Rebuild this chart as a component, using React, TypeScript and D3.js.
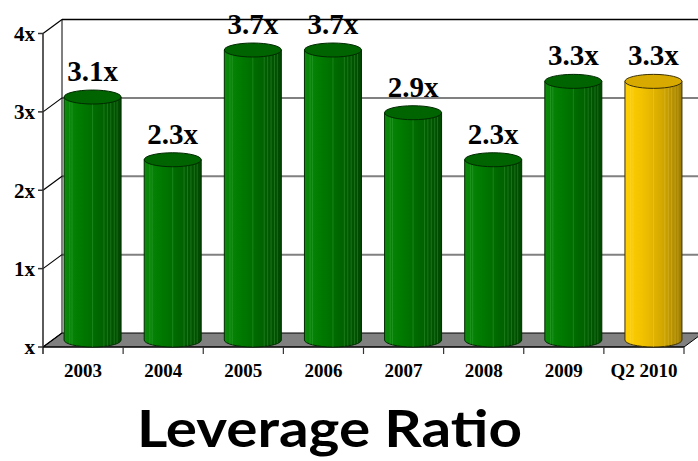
import React from "react";
import * as d3 from "d3";

const categories = ["2003", "2004", "2005", "2006", "2007", "2008", "2009", "Q2 2010"];
const values = [3.1, 2.3, 3.7, 3.7, 2.9, 2.3, 3.3, 3.3];
const valueLabels = ["3.1x", "2.3x", "3.7x", "3.7x", "2.9x", "2.3x", "3.3x", "3.3x"];
const highlighted = [false, false, false, false, false, false, false, true];
const yTicks = [0, 1, 2, 3, 4];
const yTickLabels = ["x", "1x", "2x", "3x", "4x"];
const title = "Leverage Ratio";

const W = 698;
const H = 461;
const DX = 19;
const DY = -14;
const RX = 28.5;
const RY = 7;
const serif = "'Liberation Serif', 'Times New Roman', serif";

export default function App() {
  const x = d3.scaleBand<string>().domain(categories).range([43, 684]).padding(0);
  const y = d3.scaleLinear().domain([0, 4]).range([347, 33.5]);
  const x0 = 43;
  const x1 = 684;
  const y0 = y(0);

  const stripes = [0.1, 0.14, 0.5, 0.7, 0.76, 0.82, 0.88, 0.93];

  return (
    <svg
      width={W}
      height={H}
      viewBox={`0 0 ${W} ${H}`}
      style={{ position: "absolute", left: 0, top: 0, background: "#fff" }}
    >
      <defs>
        <linearGradient id="gGreen" x1="0" x2="1" y1="0" y2="0">
          <stop offset="0" stopColor="#0b8a0b" />
          <stop offset="0.3" stopColor="#007a00" />
          <stop offset="0.65" stopColor="#006400" />
          <stop offset="1" stopColor="#004800" />
        </linearGradient>
        <linearGradient id="gGold" x1="0" x2="1" y1="0" y2="0">
          <stop offset="0" stopColor="#ffd000" />
          <stop offset="0.3" stopColor="#f2c200" />
          <stop offset="0.65" stopColor="#d4a800" />
          <stop offset="1" stopColor="#9c7c00" />
        </linearGradient>
      </defs>

      {/* floor */}
      <polygon
        points={`${x0},${y0} ${x1},${y0} ${x1 + DX},${y0 + DY} ${x0 + DX},${y0 + DY}`}
        fill="#808080"
        stroke="#000"
        strokeWidth={1}
      />

      {/* back wall gridlines */}
      {yTicks.filter((t) => t > 0).map((t) => (
        <line
          key={"g" + t}
          x1={x0 + DX}
          x2={x1 + DX}
          y1={y(t) + DY}
          y2={y(t) + DY}
          stroke={t === 4 ? "#000" : "#808080"}
          strokeWidth={t === 4 ? 1.5 : 2}
        />
      ))}
      {/* left wall */}
      <line x1={x0 + DX} x2={x0 + DX} y1={y(4) + DY} y2={y0 + DY} stroke="#000" strokeWidth={1} />
      {yTicks.map((t) => (
        <line
          key={"d" + t}
          x1={x0}
          y1={y(t)}
          x2={x0 + DX}
          y2={y(t) + DY}
          stroke="#000"
          strokeWidth={1.2}
        />
      ))}

      {/* front axis */}
      <line x1={x0} x2={x0} y1={y(4)} y2={y0 + 7} stroke="#333" strokeWidth={1.6} />
      <line x1={x0} x2={x1} y1={y0} y2={y0} stroke="#000" strokeWidth={1.2} />
      {yTicks.map((t, i) => (
        <g key={"yt" + t}>
          <line x1={x0 - 5} x2={x0} y1={y(t)} y2={y(t)} stroke="#333" strokeWidth={1.5} />
          <text
            x={x0 - 8}
            y={y(t)}
            dy="0.35em"
            textAnchor="end"
            fontFamily={serif}
            fontWeight="bold"
            fontSize={21}
            fill="#000"
          >
            {yTickLabels[i]}
          </text>
        </g>
      ))}
      {categories.map((c, i) => (
        <line
          key={"xt" + i}
          x1={(x(c) as number) + x.bandwidth()}
          x2={(x(c) as number) + x.bandwidth()}
          y1={y0}
          y2={y0 + 7}
          stroke="#333"
          strokeWidth={1.2}
        />
      ))}
      {categories.map((c) => (
        <text
          key={"xl" + c}
          x={(x(c) as number) + x.bandwidth() / 2}
          y={377}
          textAnchor="middle"
          fontFamily={serif}
          fontWeight="bold"
          fontSize={19}
          fill="#000"
        >
          {c}
        </text>
      ))}

      {/* bars */}
      {categories.map((c, i) => {
        const cx = (x(c) as number) + x.bandwidth() / 2 + DX / 2;
        const cyTop = y(values[i]) + DY / 2;
        const cyBot = y(0) + DY / 2;
        const l = cx - RX;
        const r = cx + RX;
        const gold = highlighted[i];
        const body = `M${l},${cyTop} L${l},${cyBot} A${RX},${RY} 0 0 0 ${r},${cyBot} L${r},${cyTop} Z`;
        return (
          <g key={"b" + c}>
            <path d={body} fill={gold ? "url(#gGold)" : "url(#gGreen)"} stroke={gold ? "#3a2e00" : "#002a00"} strokeWidth={1} />
            {stripes.map((s, k) => {
              const sx = l + s * 2 * RX;
              const off = Math.sqrt(Math.max(0, 1 - Math.pow((sx - cx) / RX, 2))) * RY;
              return (
                <line
                  key={k}
                  x1={sx}
                  x2={sx}
                  y1={cyTop + off}
                  y2={cyBot + off}
                  stroke={gold ? "#ffe680" : "#5fc05f"}
                  strokeOpacity={gold ? 0.3 : 0.35}
                  strokeWidth={0.8}
                />
              );
            })}
            <ellipse
              cx={cx}
              cy={cyTop}
              rx={RX}
              ry={RY}
              fill={gold ? "#d8aa00" : "#006400"}
              stroke={gold ? "#3a2e00" : "#002a00"}
              strokeWidth={1}
            />
            <text
              x={cx}
              y={cyTop - RY - 9}
              textAnchor="middle"
              fontFamily={serif}
              fontWeight="bold"
              fontSize={29}
              fill="#000"
            >
              {valueLabels[i]}
            </text>
          </g>
        );
      })}

      {/* title */}
      <text
        x={329.5}
        y={447}
        textAnchor="middle"
        fontFamily="Lato, 'Open Sans', sans-serif"
        fontWeight="bold"
        fontSize={52}
        textLength={385}
        lengthAdjust="spacingAndGlyphs"
        fill="#000"
      >
        {title}
      </text>
    </svg>
  );
}
